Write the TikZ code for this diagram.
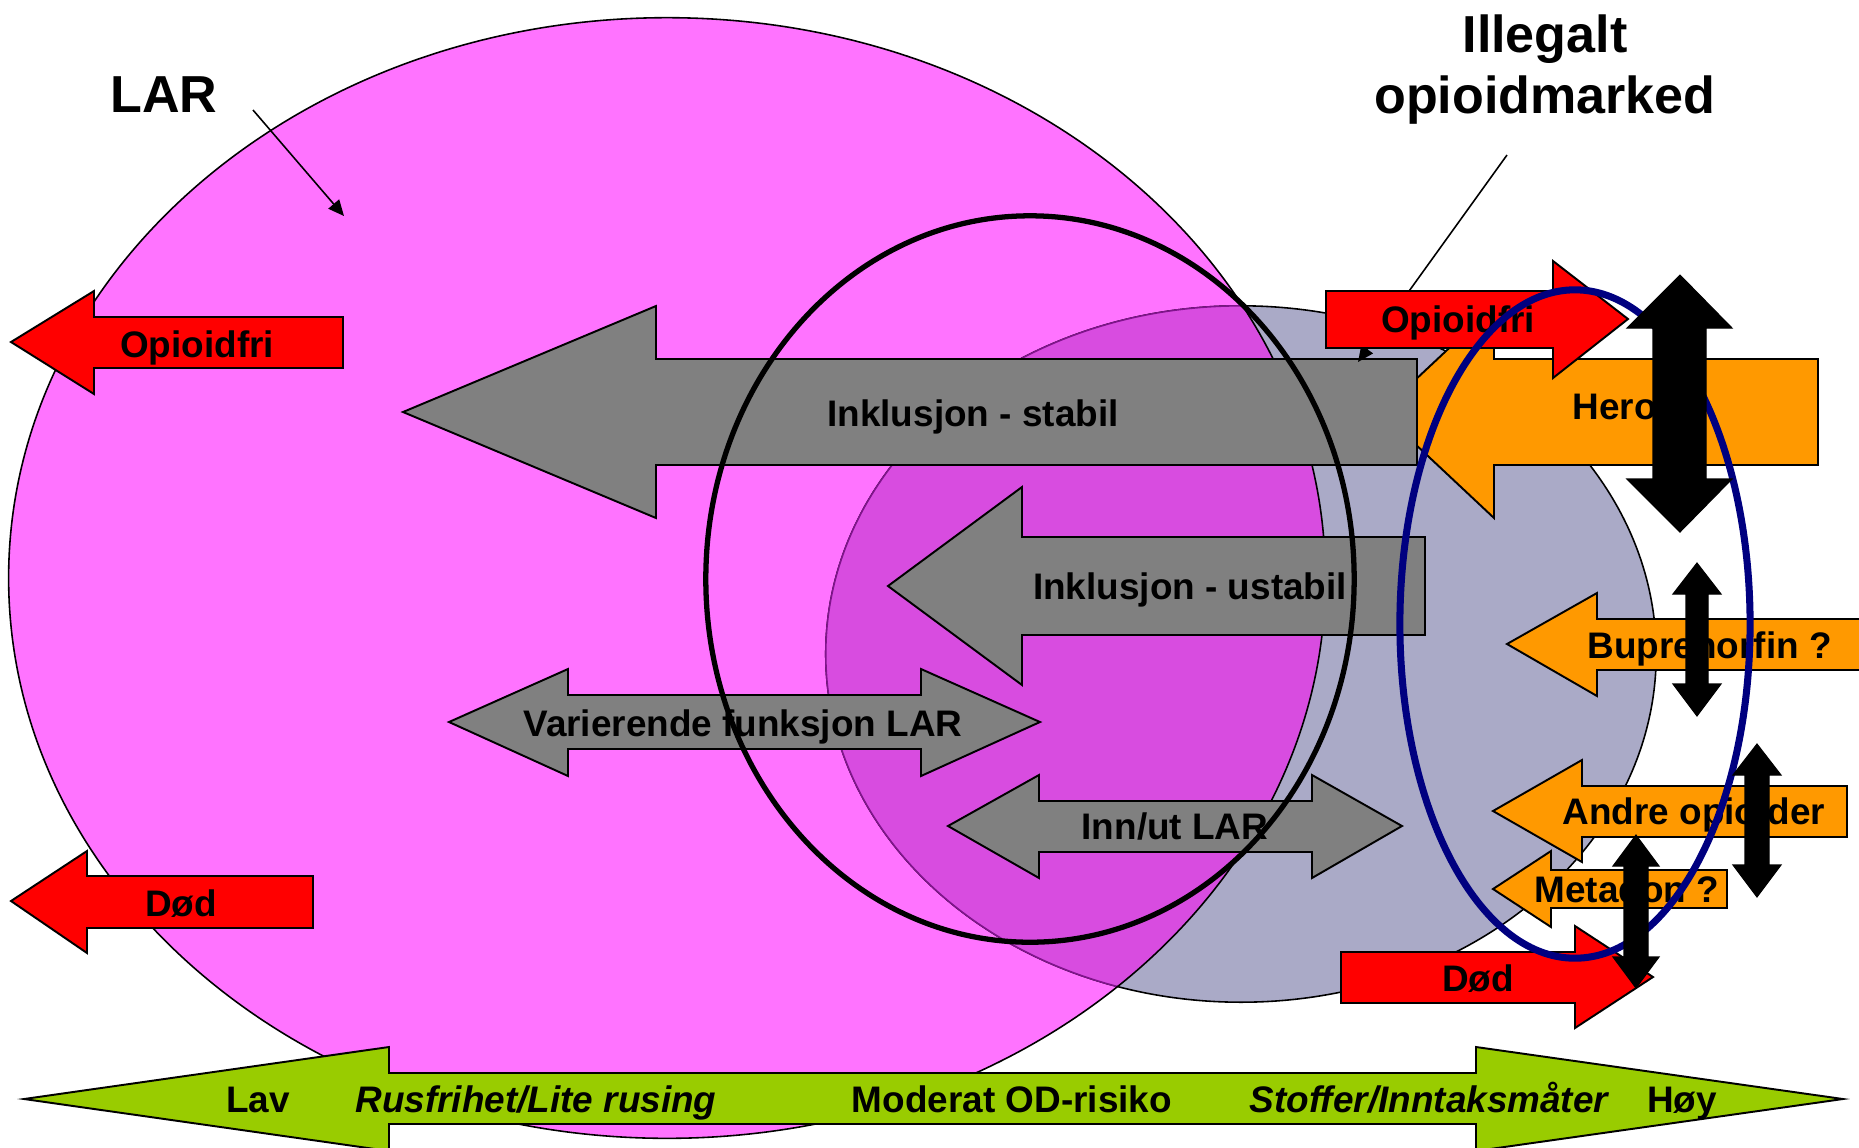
\documentclass[tikz,border=0pt]{standalone}
\usepackage{fontspec}
\setmainfont{Liberation Sans}
\usetikzlibrary{arrows.meta}
\definecolor{larpink}{RGB}{255,115,255}
\definecolor{marketgray}{RGB}{170,170,199}
\definecolor{overlap}{RGB}{216,76,224}
\definecolor{overlapline}{RGB}{128,20,140}
\definecolor{arrowgray}{RGB}{128,128,128}
\definecolor{opiorange}{RGB}{255,153,0}
\definecolor{riskgreen}{RGB}{153,204,0}
\definecolor{ringnavy}{RGB}{0,0,128}
\begin{document}
\begin{tikzpicture}[x=0.01cm,y=-0.01cm,
  blk/.style={draw=black, line width=0.55pt, line join=miter},
  redarrow/.style={blk, fill=red},
  grayarrow/.style={blk, fill=arrowgray},
  orangearrow/.style={blk, fill=opiorange},
  greenarrow/.style={blk, fill=riskgreen},
  vertarrow/.style={fill=black, draw=black, line width=0.3pt},
  lbl/.style={inner sep=0pt, anchor=base, font=\fontsize{10.5}{12}\selectfont\bfseries},
  lblw/.style={lbl, anchor=base west},
  lbli/.style={inner sep=0pt, anchor=base, font=\fontsize{10.5}{12}\selectfont\bfseries\itshape},
  title/.style={inner sep=0pt, anchor=base, font=\fontsize{14.8}{17}\selectfont\bfseries},
  pointer/.style={draw=black, line width=0.45pt, -{Triangle[length=4.5pt,width=4pt]}}]
\clip (0,0) rectangle (1859,1147);

% LAR area and the illegal opioid market
\fill[larpink] (667,578) ellipse [x radius=6.58cm, y radius=5.60cm];
\filldraw[fill=marketgray, draw=black, line width=0.45pt] (1241,654) ellipse [x radius=4.15cm, y radius=3.48cm];
\begin{scope}
  \clip (667,578) ellipse [x radius=6.58cm, y radius=5.60cm];
  \filldraw[fill=overlap, draw=overlapline, line width=0.45pt] (1241,654) ellipse [x radius=4.15cm, y radius=3.48cm];
\end{scope}
\draw[black, line width=0.45pt] (667,578) ellipse [x radius=6.58cm, y radius=5.60cm];

% titles and pointers
\node[title] (lar) at (164,112) {LAR};
\node[title] (illegal1) at (1545,52) {Illegalt};
\node[title] (illegal2) at (1545,113) {opioidmarked};
\coordinate (lartail) at (253,110);
\coordinate (lartip) at (344,216);
\draw[pointer] (lartail) -- (lartip);

% exits on the LAR side
\draw[redarrow] (11,342) -- (94,291) -- (94,317) -- (343,317) -- (343,368) -- (94,368) -- (94,394) -- cycle;
\node[lbl] (opfriL) at (197,357) {Opioidfri};
\draw[redarrow] (11,901) -- (87,851) -- (87,876) -- (313,876) -- (313,928) -- (87,928) -- (87,953) -- cycle;
\node[lbl] (dodL) at (181,916) {Død};

% opioids from the illegal market
\draw[orangearrow] (1381,412) -- (1494,306) -- (1494,359) -- (1818,359) -- (1818,465) -- (1494,465) -- (1494,518) -- cycle;
\node[lblw] (heroin) at (1572,419) {Heroin};
\draw[orangearrow] (1507,644) -- (1597,593) -- (1597,619) -- (1875,619) -- (1875,670) -- (1597,670) -- (1597,696) -- cycle;
\node[lblw] (bupre) at (1587,658) {Buprenorfin ?};
\draw[orangearrow] (1493,811) -- (1582,760) -- (1582,786) -- (1847,786) -- (1847,837) -- (1582,837) -- (1582,862) -- cycle;
\node[lblw] (andre) at (1562,824) {Andre opioider};
\draw[orangearrow] (1493,889) -- (1551,851) -- (1551,870) -- (1727,870) -- (1727,908) -- (1551,908) -- (1551,927) -- cycle;
\node[lblw] (metadon) at (1534,902) {Metadon ?};

% inclusion arrows
\draw[grayarrow] (403,412) -- (656,306) -- (656,359) -- (1417,359) -- (1417,465) -- (656,465) -- (656,518) -- cycle;
\node[lbl] (stabil) at (973,426) {Inklusjon - stabil};
\draw[grayarrow] (888,586) -- (1022,487) -- (1022,537) -- (1425,537) -- (1425,635) -- (1022,635) -- (1022,685) -- cycle;
\node[lbl] (ustabil) at (1190,599) {Inklusjon - ustabil};
\draw[grayarrow] (449,722) -- (568,669) -- (568,695) -- (921,695) -- (921,669) -- (1040,722) -- (921,776) -- (921,749) -- (568,749) -- (568,776) -- cycle;
\node[lbl] (varier) at (743,736) {Varierende funksjon LAR};
\draw[grayarrow] (948,826) -- (1039,775) -- (1039,801) -- (1312,801) -- (1312,775) -- (1402,826) -- (1312,878) -- (1312,852) -- (1039,852) -- (1039,878) -- cycle;
\node[lbl] (innut) at (1175,839) {Inn/ut LAR};

% pointer to the market
\coordinate (illtail) at (1507,155);
\coordinate (illtip) at (1358,362);
\draw[pointer] (illtail) -- (illtip);

% exits on the market side
\draw[redarrow] (1326,291) -- (1553,291) -- (1553,261) -- (1628,319) -- (1553,378) -- (1553,348) -- (1326,348) -- cycle;
\node[lbl] (opfriR) at (1458,332) {Opioidfri};
\draw[redarrow] (1341,952) -- (1575,952) -- (1575,926) -- (1653,977) -- (1575,1028) -- (1575,1003) -- (1341,1003) -- cycle;
\node[lbl] (dodR) at (1478,991) {Død};

% rings
\draw[black, line width=1.5pt] (1030,579) ellipse [x radius=3.24cm, y radius=3.63cm];
\draw[ringnavy, line width=2pt] (1575,624) ellipse [x radius=1.75cm, y radius=3.34cm];

% two-way exchange arrows
\draw[vertarrow] (1680,275) -- (1732,328) -- (1706,328) -- (1706,479) -- (1732,479) -- (1680,532) -- (1627,479) -- (1653,479) -- (1653,328) -- (1627,328) -- cycle;
\draw[vertarrow] (1697,563) -- (1721,594) -- (1708,594) -- (1708,684) -- (1721,684) -- (1697,716) -- (1673,684) -- (1686,684) -- (1686,594) -- (1673,594) -- cycle;
\draw[vertarrow] (1757,744) -- (1781,775) -- (1769,775) -- (1769,865) -- (1781,865) -- (1757,897) -- (1733,865) -- (1745,865) -- (1745,775) -- (1733,775) -- cycle;
\draw[vertarrow] (1636,835) -- (1659,866) -- (1648,866) -- (1648,957) -- (1659,957) -- (1636,988) -- (1613,957) -- (1624,957) -- (1624,866) -- (1613,866) -- cycle;

% overdose risk scale
\draw[greenarrow] (24,1099) -- (389,1047) -- (389,1073) -- (1476,1073) -- (1476,1047) -- (1843,1099) -- (1476,1151) -- (1476,1124) -- (389,1124) -- (389,1151) -- cycle;
\node[lbl] (lav) at (258,1112) {Lav};
\node[lbli] (rusfri) at (536,1112) {Rusfrihet/Lite rusing};
\node[lbl] (moderat) at (1012,1112) {Moderat OD-risiko};
\node[lbli] (stoffer) at (1429,1112) {Stoffer/Inntaksmåter};
\node[lbl] (hoy) at (1682,1112) {Høy};
\end{tikzpicture}
\end{document}
